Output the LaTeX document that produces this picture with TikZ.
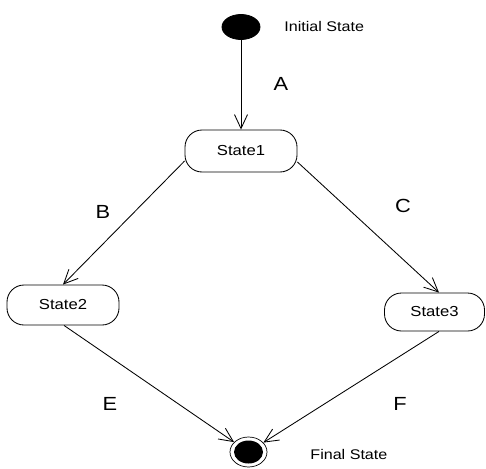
\documentclass[tikz,border=0pt]{standalone}
\usepackage{fontspec}
\setmainfont{Liberation Sans}[FakeStretch=1.15]
\usetikzlibrary{shapes.geometric,arrows.meta}
\begin{document}
\begin{tikzpicture}[x=1pt,y=-1pt,
  line width=0.85pt,
  statebox/.style={draw,rounded corners=17pt,inner sep=0pt,
    font=\fontsize{14.5}{16}\selectfont},
  trans/.style={draw,-{Straight Barb[length=14pt,width=13pt,line width=0.85pt]}},
  evlabel/.style={font=\fontsize{19}{21}\selectfont,inner sep=0pt},
  caption/.style={font=\fontsize{14}{16}\selectfont,inner sep=0pt,anchor=west}]
\useasboundingbox (0,0) rectangle (486,468);

% pseudo-states
\node[ellipse,fill=black,draw,minimum width=38pt,minimum height=25pt,inner sep=0pt] (init) at (241,27) {};
\node[ellipse,draw,line width=0.7pt,minimum width=37pt,minimum height=30pt,inner sep=0pt] (final) at (248.5,452) {};
\node[ellipse,fill=black,minimum width=29pt,minimum height=23pt,inner sep=0pt] (finalcore) at (248.5,452) {};

% states
\node[statebox,minimum width=112pt,minimum height=42pt] (s1) at (241,151) {State1};
\node[statebox,minimum width=112pt,minimum height=40pt] (s2) at (63,305) {State2};
\node[statebox,minimum width=100pt,minimum height=38pt] (s3) at (434.5,312) {State3};

% captions
\node[caption] (initcap) at (284,26) {Initial State};
\node[caption] (finalcap) at (310,454) {Final State};

% transitions
\draw[trans] (init) -- (s1);
\draw[trans] ([yshift=-10pt]s1.west) -- (s2.north);
\draw[trans] ([yshift=-11pt]s1.east) -- ([xshift=4.5pt]s3.north);
\draw[trans] ([xshift=1pt]s2.south) -- (final);
\draw[trans] ([xshift=4.5pt]s3.south) -- (final);

% event labels
\node[evlabel] (la) at (281,84) {A};
\node[evlabel] (lb) at (103,212) {B};
\node[evlabel] (lc) at (403,206) {C};
\node[evlabel] (le) at (110,404) {E};
\node[evlabel] (lf) at (400,404) {F};
\end{tikzpicture}
\end{document}
